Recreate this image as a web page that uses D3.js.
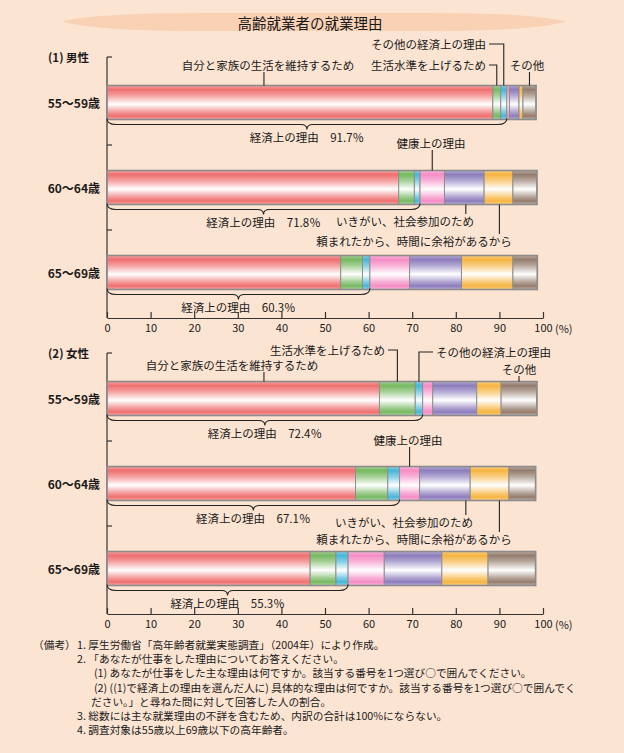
<!DOCTYPE html>
<html><head><meta charset="utf-8">
<script src="https://cdn.jsdelivr.net/npm/d3@7/dist/d3.min.js"></script>
<style>
html,body{margin:0;padding:0;background:#fce4d2;}
svg{display:block;}
text{font-family:"Noto Sans CJK JP","Noto Sans",sans-serif;fill:#1a1a1a;}
</style></head>
<body>
<script>
// ---------- data ----------
const title = "高齢就業者の就業理由";
const categories = ["55～59歳", "60～64歳", "65～69歳"];
const reasons = ["自分と家族の生活を維持するため", "生活水準を上げるため", "その他の経済上の理由",
  "健康上の理由", "いきがい、社会参加のため", "頼まれたから、時間に余裕があるから", "その他"];
const maleValues = [
  [88.5, 1.8, 1.4, 0.6, 2.2, 0.9, 3.0],
  [66.9, 3.6, 1.3, 5.6, 9.1, 6.6, 5.5],
  [53.6, 5.0, 1.7, 9.1, 11.9, 11.8, 5.6]
];
const femaleValues = [
  [62.5, 8.2, 1.7, 2.3, 10.1, 5.6, 8.2],
  [57.0, 7.4, 2.7, 4.6, 11.6, 8.9, 6.1],
  [46.6, 5.9, 2.8, 8.3, 13.2, 10.6, 10.9]
];
const maleEconomic = [91.7, 71.8, 60.3];
const femaleEconomic = [72.4, 67.1, 55.3];
const xTicks = [0, 10, 20, 30, 40, 50, 60, 70, 80, 90, 100];
const notes = [
  "1. 厚生労働省「高年齢者就業実態調査」（2004年）により作成。",
  "2. 「あなたが仕事をした理由についてお答えください。",
  "(1) あなたが仕事をした主な理由は何ですか。該当する番号を1つ選び○で囲んでください。",
  "(2) ((1)で経済上の理由を選んだ人に) 具体的な理由は何ですか。該当する番号を1つ選び○で囲んでく",
  "ださい。」と尋ねた問に対して回答した人の割合。",
  "3. 総数には主な就業理由の不詳を含むため、内訳の合計は100%にならない。",
  "4. 調査対象は55歳以上69歳以下の高年齢者。"
];

// ---------- style ----------
const colors = ["#ef6f6f", "#76b860", "#45b6d8", "#f58cc4", "#8c7cbc", "#f6b440", "#947c6c"];
const W = 624, H = 753;
const svg = d3.select("body").append("svg").attr("width", W).attr("height", H);
svg.append("rect").attr("width", W).attr("height", H).attr("fill", "#fce4d2");

const defs = svg.append("defs");
colors.forEach((c, i) => {
  const g = defs.append("linearGradient").attr("id", "g" + i)
    .attr("x1", 0).attr("y1", 0).attr("x2", 0).attr("y2", 1);
  const light = d3.interpolateRgb(c, "#fff");
  [[0, light(0.35)], [0.12, c], [0.3, light(0.35)], [0.55, "#ffffff"], [0.78, light(0.3)], [0.9, c], [1, light(0.4)]]
    .forEach(([o, col]) => g.append("stop").attr("offset", o).attr("stop-color", col));
});

// title band
svg.append("path")
  .attr("d", "M62,21.5 Q95,13 200,13 L430,13 Q535,13 566,21.5 Q535,31 430,31 L200,31 Q95,31 62,21.5 Z")
  .attr("fill", "#f9d1b5");
svg.append("text").attr("x", 310).attr("y", 22).attr("text-anchor", "middle")
  .attr("dominant-baseline", "central").attr("font-size", 14.5).text(title);

const x = d3.scaleLinear().domain([0, 100]).range([107, 543]);

function panel(cfg) {
  const { label, values, econ, yTop, yAxis, ann } = cfg;
  const g = svg.append("g");
  const y = d3.scaleBand().domain(categories).range([yTop + 3, yAxis - 3]).paddingInner(0.6).paddingOuter(0.3);
  const bw = y.bandwidth();

  g.append("text").attr("x", 48).attr("y", yTop).attr("dominant-baseline", "central")
    .attr("font-size", 11.5).attr("font-weight", "bold").text(label);

  // left axis line with ticks at band boundaries
  g.append("line").attr("x1", x(0)).attr("x2", x(0)).attr("y1", yTop).attr("y2", yAxis)
    .attr("stroke", "#333").attr("stroke-width", 1.2);
  const bounds = [yTop].concat(categories.slice(1).map(c => y(c) - y.step() * y.paddingInner() / 2));
  g.selectAll(".lt").data(bounds).join("line")
    .attr("x1", x(0)).attr("x2", x(0) + 5).attr("y1", d => d).attr("y2", d => d)
    .attr("stroke", "#333").attr("stroke-width", 1.2);

  // bottom axis
  const ax = g.append("g").attr("transform", `translate(0,${yAxis})`)
    .call(d3.axisBottom(x).tickValues(xTicks).tickSizeInner(-6).tickSizeOuter(0).tickPadding(6)
      .tickFormat(d => d));
  ax.select(".domain").attr("stroke", "#333").attr("stroke-width", 1.2);
  ax.selectAll(".tick line").attr("stroke", "#333").attr("stroke-width", 1.2);
  ax.selectAll(".tick text").attr("font-size", 11).attr("fill", "#1a1a1a")
    .attr("font-family", "'Noto Sans CJK JP', sans-serif");
  g.append("text").attr("x", x(100) + 12).attr("y", yAxis + 14.5).attr("font-size", 11).text("(%)");

  // category labels
  g.selectAll(".cl").data(categories).join("text")
    .attr("x", 100).attr("y", d => y(d) + bw / 2).attr("text-anchor", "end")
    .attr("dominant-baseline", "central").attr("font-size", 12).attr("font-weight", "bold").text(d => d);

  // bars
  values.forEach((row, ri) => {
    const cat = categories[ri];
    const cum = [0, ...d3.cumsum(row)];
    const bg = g.append("g");
    bg.selectAll("rect").data(row).join("rect")
      .attr("x", (d, i) => x(cum[i])).attr("y", y(cat))
      .attr("width", (d, i) => x(cum[i + 1]) - x(cum[i])).attr("height", bw)
      .attr("fill", (d, i) => `url(#g${i})`)
      .attr("stroke", "#8f8f8f").attr("stroke-width", 1);
    bg.append("rect").attr("x", x(0)).attr("y", y(cat)).attr("width", x(cum[cum.length - 1]) - x(0))
      .attr("height", bw).attr("fill", "none").attr("stroke", "#8c8c8c").attr("stroke-width", 1.6);

    // brace for economic reasons
    const x0 = x(0), x1 = x(econ[ri]), mid = (x0 + x1) / 2, yb = y(cat) + bw + 1;
    g.append("path")
      .attr("d", `M${x0},${yb - 2} Q${x0},${yb + 4} ${x0 + 9},${yb + 4} L${mid - 6},${yb + 4} Q${mid},${yb + 4} ${mid},${yb + 9} Q${mid},${yb + 4} ${mid + 6},${yb + 4} L${x1 - 9},${yb + 4} Q${x1},${yb + 4} ${x1},${yb - 2}`)
      .attr("fill", "none").attr("stroke", "#222").attr("stroke-width", 1.1);
    g.append("text").attr("x", mid).attr("y", yb + 16.5).attr("text-anchor", "middle")
      .attr("dominant-baseline", "central").attr("font-size", 11.5)
      .text(`経済上の理由　${econ[ri].toFixed(1)}％`);
  });

  // annotations
  ann.forEach(a => {
    const row = values[a.row], cat = categories[a.row];
    const cum = [0, ...d3.cumsum(row)];
    const px = a.at !== undefined ? x(a.at) : x((cum[a.seg] + cum[a.seg + 1]) / 2);
    const barTop = y(cat), barBot = y(cat) + bw;
    const t = g.append("text").attr("y", a.ty).attr("dominant-baseline", "central")
      .attr("font-size", 11.5).text(reasons[a.seg]);
    let pts;
    if (a.kind === "down") {
      t.attr("x", a.tx).attr("text-anchor", "middle");
      pts = [[px, a.ty + 7], [px, barTop]];
    } else if (a.kind === "elbowR") {
      t.attr("x", a.tx).attr("text-anchor", "end");
      pts = [[a.tx + 3, a.ty], [px, a.ty], [px, barTop]];
    } else if (a.kind === "elbowL") {
      t.attr("x", a.tx).attr("text-anchor", "start");
      pts = [[a.tx - 3, a.ty], [px, a.ty], [px, barTop]];
    } else if (a.kind === "up") {
      t.attr("x", a.tx).attr("text-anchor", "middle");
      pts = [[px, barBot], [px, a.ty - 7]];
    }
    g.append("path").attr("d", d3.line()(pts)).attr("fill", "none").attr("stroke", "#222").attr("stroke-width", 1.1);
  });
}

panel({
  label: "(1) 男性", values: maleValues, econ: maleEconomic, yTop: 57, yAxis: 318,
  ann: [
    { row: 0, seg: 0, kind: "down", at: 36, tx: 268, ty: 65 },
    { row: 0, seg: 2, kind: "elbowR", tx: 486, ty: 44 },
    { row: 0, seg: 1, kind: "elbowR", tx: 486, ty: 65 },
    { row: 0, seg: 6, kind: "down", tx: 527, ty: 65 },
    { row: 1, seg: 3, kind: "down", tx: 431, ty: 143 },
    { row: 1, seg: 4, kind: "up", at: 82.3, tx: 405, ty: 221 },
    { row: 1, seg: 5, kind: "up", at: 90, tx: 414, ty: 241 }
  ]
});
panel({
  label: "(2) 女性", values: femaleValues, econ: femaleEconomic, yTop: 353, yAxis: 614,
  ann: [
    { row: 0, seg: 1, kind: "elbowR", tx: 385, ty: 350 },
    { row: 0, seg: 2, kind: "elbowL", tx: 436, ty: 352 },
    { row: 0, seg: 0, kind: "down", at: 36, tx: 232, ty: 365 },
    { row: 0, seg: 6, kind: "down", tx: 519, ty: 369 },
    { row: 1, seg: 3, kind: "down", tx: 408, ty: 440 },
    { row: 1, seg: 4, kind: "up", at: 82.3, tx: 404, ty: 522 },
    { row: 1, seg: 5, kind: "up", at: 90, tx: 414, ty: 539 }
  ]
});

// notes
const ng = svg.append("g");
ng.append("text").attr("x", 33).attr("y", 649).attr("font-size", 10.7).text("（備考）");
const noteX = [77, 77, 94, 94, 91, 77, 77];
notes.forEach((n, i) => {
  ng.append("text").attr("x", noteX[i]).attr("y", 649 + i * 14.2).attr("font-size", 10.7).text(n);
});
</script>
</body></html>
